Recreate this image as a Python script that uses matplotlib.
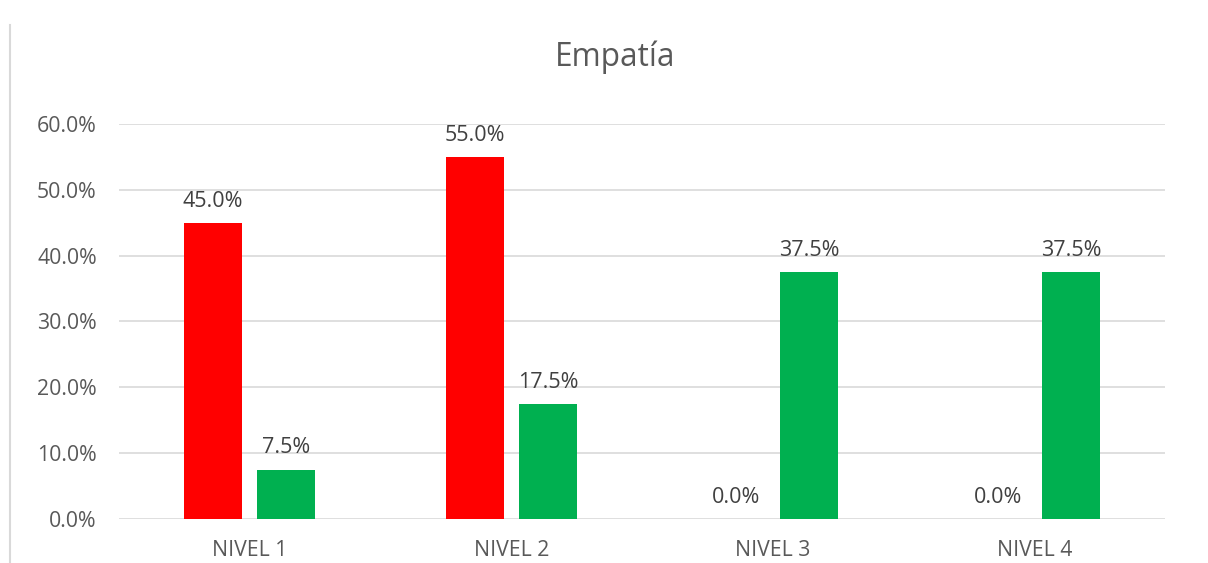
import matplotlib.pyplot as plt
import numpy as np
from matplotlib.lines import Line2D

categories = ['NIVEL 1', 'NIVEL 2', 'NIVEL 3', 'NIVEL 4']
serie_roja = [45.0, 55.0, 0.0, 0.0]
serie_verde = [7.5, 17.5, 37.5, 37.5]
yticks = [0, 10, 20, 30, 40, 50, 60]

plt.rcParams['font.family'] = ['Open Sans', 'DejaVu Sans']

fig = plt.figure(figsize=(12.08, 5.63), dpi=100)
ax = fig.add_axes([0.0985, 0.0782, 0.8659, 0.7016])

x = np.arange(len(categories))
w = 0.222
off = 0.14
b1 = ax.bar(x - off, serie_roja, w, color='#FF0000', zorder=3)
b2 = ax.bar(x + off, serie_verde, w, color='#00B050', zorder=3)

for bars in (b1, b2):
    for rect in bars:
        h = rect.get_height()
        ax.annotate('%.1f%%' % h, (rect.get_x() + rect.get_width() / 2, h),
                    xytext=(0, 8), textcoords='offset points',
                    ha='center', va='bottom', fontsize=15.5, color='#404040')

ax.set_xlim(-0.5, 3.5)
ax.set_ylim(0, 60)
ax.set_yticks(yticks)
ax.set_yticklabels(['%.1f%%' % t for t in yticks])
ax.set_xticks(x)
ax.set_xticklabels(categories)
ax.tick_params(axis='both', length=0, labelsize=15.3, colors='#595959')
ax.tick_params(axis='y', pad=16)
ax.tick_params(axis='x', pad=15)
ax.grid(axis='y', color='#D9D9D9', linewidth=1.2, zorder=0)
for s in ax.spines.values():
    s.set_visible(False)

fig.text(0.509, 0.898, 'Empatía', ha='center', va='center', fontsize=22.7, color='#595959')
fig.add_artist(Line2D([0.0083, 0.0083], [0, 0.955], color='#D9D9D9', linewidth=1.5))

plt.savefig('out.png')
